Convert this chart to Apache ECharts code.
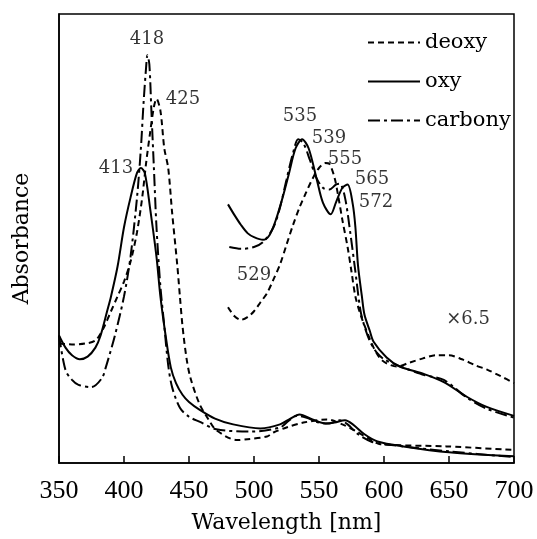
<!DOCTYPE html>
<html>
<head>
<meta charset="utf-8">
<script src="https://cdn.jsdelivr.net/npm/echarts@6/dist/echarts.min.js"></script>
<style>html,body{margin:0;padding:0;background:#fff}#c{width:537px;height:539px}</style>
</head>
<body>
<div id="c"></div>
<script>
// ---- data (absorbance in arbitrary units) ----
const xTicks = [350, 400, 450, 500, 550, 600, 650, 700];

const deoxyWl  = [350,360,370,378,384,390,395,400,405,410,414,417,420,423,425,428,431,434,437,441,443,445,448,451,458,465,471,487,495,510,515,525,538,556,568,579,589,597,648,700];
const deoxyAbs = [0.266,0.264,0.266,0.273,0.299,0.338,0.371,0.404,0.448,0.514,0.591,0.668,0.734,0.793,0.811,0.785,0.701,0.657,0.558,0.440,0.371,0.305,0.235,0.191,0.132,0.097,0.073,0.051,0.053,0.059,0.068,0.079,0.090,0.097,0.086,0.070,0.053,0.042,0.037,0.029];

const oxyWl  = [350,355,360,366,372,378,382,387,390,395,400,405,410,413,416,420,425,428,432,436,440,445,450,458,470,484,505,520,528,535,545,555,562,570,576,585,595,615,650,700];
const oxyAbs = [0.284,0.257,0.240,0.231,0.237,0.257,0.284,0.338,0.371,0.437,0.525,0.591,0.646,0.657,0.646,0.569,0.459,0.371,0.284,0.213,0.178,0.152,0.136,0.119,0.099,0.086,0.077,0.086,0.099,0.108,0.097,0.088,0.090,0.095,0.086,0.064,0.048,0.037,0.024,0.015];

const carbonyWl  = [350,355,360,365,375,383,386,393,400,405,410,413,415,417,418,419.5,421,423,425,428,431,434,437,443,450,458,471,497,520,527,533,540,550,558,566,572,580,590,600,650,700];
const carbonyAbs = [0.284,0.207,0.185,0.174,0.169,0.189,0.213,0.284,0.371,0.459,0.591,0.701,0.800,0.881,0.908,0.888,0.789,0.657,0.525,0.393,0.305,0.218,0.169,0.123,0.103,0.092,0.075,0.070,0.079,0.095,0.105,0.101,0.090,0.088,0.095,0.086,0.064,0.048,0.042,0.026,0.013];

// x6.5 magnified visible region
const deoxy65Wl  = [480,485,490,495,500,505,510,515,520,525,530,535,540,545,550,555,558,562,565,568,572,575,578,582,588,592,597,602,610,620,630,640,650,660,670,680,690,700];
const deoxy65Abs = [0.347,0.327,0.319,0.325,0.338,0.358,0.378,0.409,0.442,0.486,0.530,0.569,0.602,0.633,0.657,0.668,0.666,0.635,0.591,0.541,0.481,0.426,0.371,0.330,0.284,0.257,0.233,0.222,0.215,0.224,0.233,0.240,0.240,0.231,0.218,0.207,0.193,0.178];

const oxy65Wl  = [480,485,490,495,500,507,512,517,522,527,532,537,542,548,553,559,563,568,572,576,578,580,583,585,589,592,602,612,631,646,664,679,700];
const oxy65Abs = [0.576,0.552,0.530,0.512,0.503,0.497,0.508,0.543,0.591,0.646,0.701,0.721,0.701,0.635,0.580,0.554,0.580,0.613,0.620,0.576,0.525,0.440,0.371,0.330,0.295,0.270,0.235,0.215,0.198,0.180,0.147,0.125,0.105];

const carbony65Wl  = [481,490,500,507,515,520,525,530,534,538,543,548,553,558,563,566,570,574,578,582,586,590,595,600,610,620,631,646,664,679,700];
const carbony65Abs = [0.481,0.477,0.481,0.492,0.525,0.569,0.631,0.690,0.721,0.712,0.675,0.635,0.613,0.609,0.620,0.622,0.591,0.514,0.426,0.338,0.295,0.266,0.244,0.231,0.218,0.207,0.196,0.185,0.145,0.121,0.101];

// peak annotations
const noteText = ['418','425','413','535','539','555','565','572','529','\u00d76.5'];
const noteWl   = [417.7,445.4,393.8,535.4,557.7,570.0,590.8,593.8,500.0,664.6];
const noteAbs  = [0.943,0.809,0.657,0.771,0.723,0.677,0.631,0.580,0.418,0.319];

const zip = (a, b) => a.map((v, i) => [v, b[i]]);

const styles = {
  deoxy:   { type: [6, 4], width: 2, color: '#000' },
  oxy:     { type: 'solid', width: 2, color: '#000' },
  carbony: { type: [12, 4, 3, 4], width: 2, color: '#000' }
};
function line(name, wl, ab) {
  return {
    name: name, type: 'line', data: zip(wl, ab), smooth: 0.3,
    symbol: 'none', showSymbol: false, silent: true,
    lineStyle: styles[name], itemStyle: { color: '#000' }
  };
}

const chart = echarts.init(document.getElementById('c'));
chart.setOption({
  animation: false,
  backgroundColor: '#fff',
  textStyle: { fontFamily: 'DejaVu Serif', color: '#000' },
  grid: { left: 59, right: 23, top: 14, bottom: 70, show: true, borderColor: '#000', borderWidth: 1.5, backgroundColor: 'transparent' },
  legend: {
    data: ['deoxy', 'oxy', 'carbony'], orient: 'vertical', left: 367, top: 32, padding: 0,
    itemWidth: 52, itemHeight: 20, itemGap: 18, selectedMode: false,
    itemStyle: { opacity: 0, borderWidth: 0 },
    textStyle: { fontFamily: 'DejaVu Serif', fontSize: 21, color: '#000' }
  },
  xAxis: {
    type: 'value', min: 350, max: 700, interval: 50,
    name: 'Wavelength [nm]', nameLocation: 'middle', nameGap: 49,
    nameTextStyle: { fontFamily: 'DejaVu Serif', fontSize: 22, color: '#000' },
    axisLine: { lineStyle: { color: '#000', width: 1.5 } },
    axisTick: { inside: true, length: 7, lineStyle: { color: '#000', width: 1.5 } },
    axisLabel: { fontFamily: 'Liberation Serif', fontSize: 26, color: '#000', margin: 15,
      formatter: v => xTicks.includes(v) ? String(v) : '' },
    splitLine: { show: false }
  },
  yAxis: {
    type: 'value', min: 0, max: 1,
    name: 'Absorbance', nameLocation: 'middle', nameGap: 26, nameRotate: 90,
    nameTextStyle: { fontFamily: 'DejaVu Serif', fontSize: 22, color: '#000' },
    axisLine: { show: true, lineStyle: { color: '#000', width: 1.5 } },
    axisTick: { show: false }, axisLabel: { show: false }, splitLine: { show: false }
  },
  series: [
    line('deoxy', deoxyWl, deoxyAbs),
    line('oxy', oxyWl, oxyAbs),
    line('carbony', carbonyWl, carbonyAbs),
    line('deoxy', deoxy65Wl, deoxy65Abs),
    line('oxy', oxy65Wl, oxy65Abs),
    line('carbony', carbony65Wl, carbony65Abs),
    {
      name: 'notes', type: 'scatter', symbolSize: 0, silent: true,
      data: noteText.map((t, i) => ({ name: t, value: [noteWl[i], noteAbs[i]] })),
      label: { show: true, position: [0, 0], align: 'center', verticalAlign: 'middle', formatter: '{b}',
        fontFamily: 'DejaVu Serif', fontSize: 18, color: '#000' }
    }
  ]
});
</script>
</body>
</html>
